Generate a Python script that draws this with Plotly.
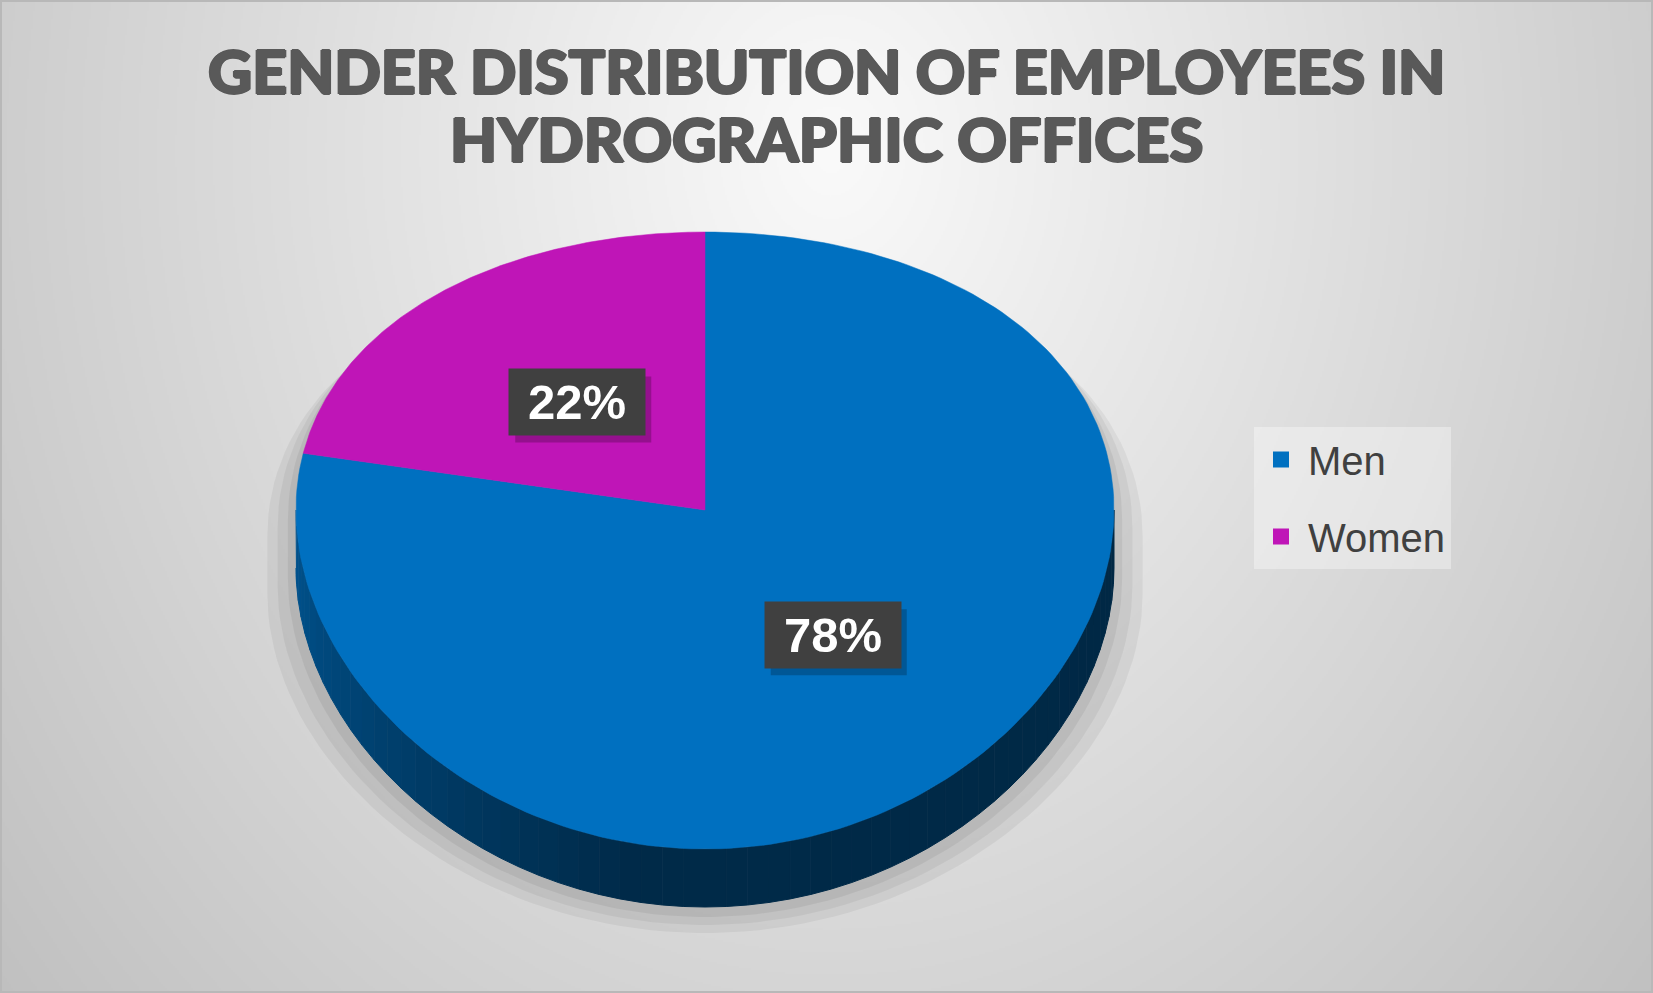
import numpy as np
import plotly.graph_objects as go
import zlib, struct, base64

# ---------------- data ----------------
categories = ["Men", "Women"]
shares = [78, 22]
slice_colors = ["#0070C0", "#BF15B7"]
label_texts = ["78%", "22%"]
title_lines = ["GENDER DISTRIBUTION OF EMPLOYEES IN", "HYDROGRAPHIC OFFICES"]

# ---------------- geometry (style) ----------------
W, H = 1653, 993
CX, CY = 705, 510
RX = 409
RY_MID, RY_SKEW = 308.5, 30.5
DEPTH = 58
LABEL_F = 0.49
BOX_W, BOX_H = 136, 66


def ell(theta_deg, dy=0.0):
    t = np.radians(theta_deg)
    s = np.sin(t)
    return CX + RX * np.cos(t), CY - (RY_MID - RY_SKEW * s) * s + dy


def hex_rgb(h):
    h = h.lstrip("#")
    return tuple(int(h[i:i + 2], 16) for i in (0, 2, 4))


def png_gray(arr):
    h, w = arr.shape
    raw = b"".join(b"\x00" + arr[i].astype(np.uint8).tobytes() for i in range(h))

    def chunk(t, d):
        return struct.pack(">I", len(d)) + t + d + struct.pack(">I", zlib.crc32(t + d) & 0xFFFFFFFF)

    return (b"\x89PNG\r\n\x1a\n" + chunk(b"IHDR", struct.pack(">IIBBBBB", w, h, 8, 0, 0, 0, 0))
            + chunk(b"IDAT", zlib.compress(raw, 9)) + chunk(b"IEND", b""))


# background radial gradient (style only)
bw, bh = 827, 497
yy, xx = np.mgrid[0:bh, 0:bw]
px = xx * (W / bw)
py = yy * (H / bh)
d = np.sqrt(((px - 830) / 900.0) ** 2 + ((py - 150) / 1100.0) ** 2)
bg = np.clip(250 - 48 * d, 180, 250)
bg_uri = "data:image/png;base64," + base64.b64encode(png_gray(bg)).decode()

fig = go.Figure()

# ---------- shadow ----------
back = np.linspace(0, 180, 90)
front = np.linspace(180, 360, 90)
bx1, by1 = ell(back)
bx2, by2 = ell(front, DEPTH)
ox = np.concatenate([bx1, bx2])
oy = np.concatenate([by1, by2])
for sc, dy, op in [(1.07, 26, 0.05), (1.045, 18, 0.05), (1.02, 10, 0.06)]:
    fig.add_trace(go.Scatter(
        x=CX + (ox - CX) * sc, y=oy + dy, mode="lines", fill="toself",
        fillcolor=f"rgba(0,0,0,{op})", line=dict(width=0),
        hoverinfo="skip", showlegend=False))

# ---------- slices ----------
cum = 0.0
angles = []
for cat, val in zip(categories, shares):
    a0 = 90 - cum / sum(shares) * 360
    a1 = a0 - val / sum(shares) * 360
    angles.append((a0, a1))
    cum += val

# side walls (front part only)
for (a0, a1), col in zip(angles, slice_colors):
    lo, hi = max(a1, -180), min(a0, 0)
    if hi <= lo:
        continue
    r, g, b = hex_rgb(col)
    edges = np.linspace(lo, hi, 61)
    for i in range(60):
        m = (edges[i] + edges[i + 1]) / 2
        t = np.clip((m + 180) / 80.0, 0, 1)
        f = 0.75 - (0.75 - 0.38) * t - 0.02 * np.clip((m + 100) / 100.0, 0, 1)
        c = f"rgb({int(r * f)},{int(g * f)},{int(b * f)})"
        th = np.linspace(edges[i], edges[i + 1], 6)
        tx, ty = ell(th)
        sx, sy = ell(th[::-1], DEPTH)
        fig.add_trace(go.Scatter(
            x=np.concatenate([tx, sx]), y=np.concatenate([ty, sy]),
            mode="lines", fill="toself", fillcolor=c, line=dict(width=1, color=c),
            hoverinfo="skip", showlegend=False))

# top faces
for (a0, a1), cat, col, val in zip(angles, categories, slice_colors, shares):
    th = np.linspace(a0, a1, 200)
    tx, ty = ell(th)
    fig.add_trace(go.Scatter(
        x=np.concatenate([[CX], tx, [CX]]), y=np.concatenate([[CY], ty, [CY]]),
        mode="lines", fill="toself", fillcolor=col, line=dict(width=0.5, color=col),
        name=cat, legendgroup=cat, showlegend=False,
        hovertemplate=f"{cat}: {val}%<extra></extra>"))

# legend entries
for cat, col in zip(categories, slice_colors):
    fig.add_trace(go.Scatter(
        x=[None], y=[None], mode="markers", name=cat, legendgroup=cat,
        marker=dict(symbol="square", size=16, color=col)))

# ---------- data labels ----------
annotations = []
shapes = []
for (a0, a1), txt in zip(angles, label_texts):
    m = (a0 + a1) / 2
    t = np.radians(m)
    s = np.sin(t)
    lx = CX + LABEL_F * RX * np.cos(t)
    ly = CY - LABEL_F * (RY_MID - RY_SKEW * s) * s
    shapes.append(dict(type="rect", xref="x", yref="y",
                       x0=lx - BOX_W / 2 + 6, x1=lx + BOX_W / 2 + 6,
                       y0=ly - BOX_H / 2 + 7, y1=ly + BOX_H / 2 + 7,
                       fillcolor="rgba(0,0,0,0.22)", line=dict(width=0), layer="above"))
    annotations.append(dict(
        x=lx, y=ly, xref="x", yref="y", text=txt, showarrow=False,
        font=dict(size=49, color="white", family="Liberation Sans", weight="bold"),
        bgcolor="#404040", width=BOX_W - 2, height=BOX_H - 2, borderpad=1))

thick = "1.3px 0 0 #595959, -1.3px 0 0 #595959, 0 0.8px 0 #595959, 0 -0.8px 0 #595959"
for line, yc in zip(title_lines, [70, 139]):
    annotations.append(dict(
        x=0.5, y=1 - yc / H, xref="paper", yref="paper", text=line, showarrow=False,
        xanchor="center", yanchor="middle",
        font=dict(family="Lato", size=61, color="#595959", weight=900, shadow=thick)))

shapes.append(dict(type="rect", xref="paper", yref="paper", x0=0, y0=0, x1=1, y1=1,
                   line=dict(color="#b8b8b8", width=4), layer="above"))

fig.update_layout(
    width=W, height=H,
    margin=dict(l=0, r=0, t=0, b=0),
    paper_bgcolor="#dcdcdc", plot_bgcolor="rgba(0,0,0,0)",
    images=[dict(source=bg_uri, xref="paper", yref="paper", x=0, y=1, sizex=1, sizey=1,
                 xanchor="left", yanchor="top", sizing="stretch", layer="below")],
    xaxis=dict(range=[0, W], visible=False, fixedrange=True),
    yaxis=dict(range=[H, 0], visible=False, fixedrange=True),
    legend=dict(x=1254 / W, y=1 - 427 / H, xanchor="left", yanchor="top",
                bgcolor="rgba(255,255,255,0.35)", borderwidth=0,
                font=dict(family="Liberation Sans", size=40, color="#404040"),
                tracegroupgap=22, itemsizing="trace", itemwidth=44,
                entrywidth=205, entrywidthmode="pixels"),
    annotations=annotations,
    shapes=shapes,
    showlegend=True,
)

fig.write_html("out.html", post_script="document.body.style.margin='0';",
               config={"displayModeBar": False})
